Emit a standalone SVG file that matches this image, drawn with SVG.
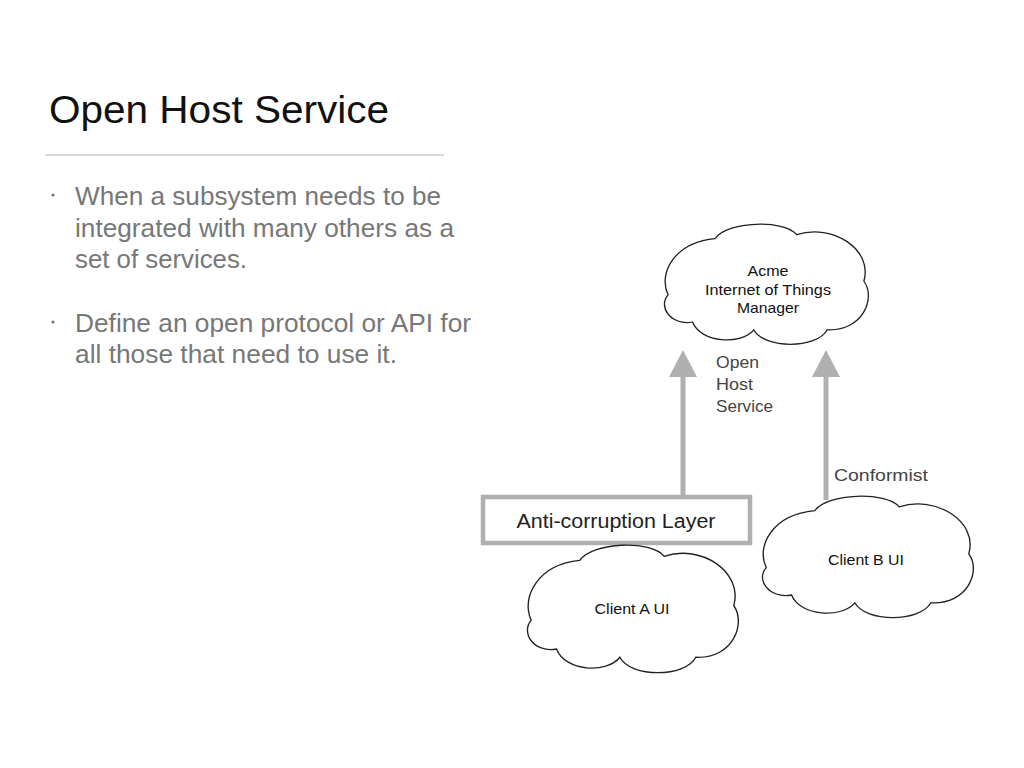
<svg xmlns="http://www.w3.org/2000/svg" xmlns:xlink="http://www.w3.org/1999/xlink" width="1024" height="768" viewBox="0 0 1024 768">
<style>
.title{font-family:"Liberation Sans",Arial,sans-serif;font-size:39px;fill:#111}
.bullet{font-family:"Liberation Sans",Arial,sans-serif;font-size:25px;fill:#777}
.cloud{fill:#fff;stroke:#222;stroke-width:1.3;vector-effect:non-scaling-stroke}
.ctext{font-family:"Liberation Sans",Arial,sans-serif;font-size:15px;fill:#111;text-anchor:middle}
.lbl{font-family:"Liberation Sans",Arial,sans-serif;font-size:17px;fill:#444}
.shaft{stroke:#b0b0b0;stroke-width:5;fill:none}
.head{fill:#b0b0b0}
</style>
<defs>
<path id="cloudShape" d="M 4,72 C -6,50 10,18 50,14 C 62,-4 118,-6 130,10 C 165,-2 205,25 196,58 C 208,75 195,110 160,108 C 150,128 98,128 88,108 C 76,124 36,122 28,100 C 6,104 -6,84 4,72 Z"/>
</defs>
<rect width="1024" height="768" fill="#fff"/>
<text class="title" x="49" y="123" textLength="340" lengthAdjust="spacingAndGlyphs">Open Host Service</text>
<line x1="45" y1="155" x2="444" y2="155" stroke="#ccc" stroke-width="1.5"/>
<g id="bullets" class="bullet">
<circle cx="53" cy="195" r="1.6" fill="#777"/>
<text x="75" y="205" textLength="366" lengthAdjust="spacingAndGlyphs">When a subsystem needs to be</text>
<text x="75" y="237" textLength="379" lengthAdjust="spacingAndGlyphs">integrated with many others as a</text>
<text x="75" y="268" textLength="172" lengthAdjust="spacingAndGlyphs">set of services.</text>
<circle cx="53" cy="322" r="1.6" fill="#777"/>
<text x="75" y="332" textLength="396" lengthAdjust="spacingAndGlyphs">Define an open protocol or API for</text>
<text x="75" y="363" textLength="322" lengthAdjust="spacingAndGlyphs">all those that need to use it.</text>
</g>
<g id="connectors">
<line class="shaft" x1="683" y1="495" x2="683" y2="374"/>
<polygon class="head" points="683,350 669,377 697,377"/>
<line class="shaft" x1="826" y1="500" x2="826" y2="374"/>
<polygon class="head" points="826,350 812,377 840,377"/>
<text class="lbl" x="716" y="368" textLength="43" lengthAdjust="spacingAndGlyphs">Open</text>
<text class="lbl" x="716" y="390" textLength="37" lengthAdjust="spacingAndGlyphs">Host</text>
<text class="lbl" x="716" y="412" textLength="57" lengthAdjust="spacingAndGlyphs">Service</text>
<text class="lbl" x="834" y="481" textLength="94" lengthAdjust="spacingAndGlyphs">Conformist</text>
</g>
<g id="manager">
<use xlink:href="#cloudShape" class="cloud" transform="translate(664,225) scale(1.02,0.97)"/>
<text class="ctext" x="768" y="276" textLength="41" lengthAdjust="spacingAndGlyphs">Acme</text>
<text class="ctext" x="768" y="295" textLength="126" lengthAdjust="spacingAndGlyphs">Internet of Things</text>
<text class="ctext" x="768" y="313" textLength="62" lengthAdjust="spacingAndGlyphs">Manager</text>
</g>
<g id="acl">
<rect x="483" y="497" width="267" height="46" fill="#fff" stroke="#b0b0b0" stroke-width="4.5"/>
<text x="616" y="528" textLength="199" lengthAdjust="spacingAndGlyphs" style="font-family:'Liberation Sans',Arial,sans-serif;font-size:20px;fill:#222;text-anchor:middle">Anti-corruption Layer</text>
</g>
<g id="clientA">
<use xlink:href="#cloudShape" class="cloud" transform="translate(527,546) scale(1.055,1.03)"/>
<text class="ctext" x="632" y="614" textLength="75" lengthAdjust="spacingAndGlyphs">Client A UI</text>
</g>
<g id="clientB">
<use xlink:href="#cloudShape" class="cloud" transform="translate(762,497) scale(1.055,0.98)"/>
<text class="ctext" x="866" y="565" textLength="76" lengthAdjust="spacingAndGlyphs">Client B UI</text>
</g>
</svg>
